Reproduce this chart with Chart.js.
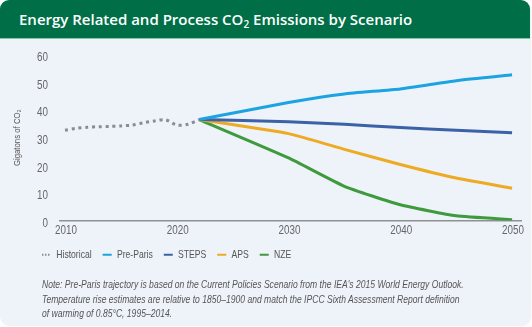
<!DOCTYPE html>
<html>
<head>
<meta charset="utf-8">
<script src="https://cdn.jsdelivr.net/npm/chart.js@4.4.0/dist/chart.umd.min.js"></script>
<style>
  html, body { margin: 0; padding: 0; width: 532px; height: 327px; background: #fff; overflow: hidden; }
  .card { position: absolute; left: 0; top: 0; width: 530px; height: 325px; background: #eef2f9; border-radius: 9px; overflow: hidden; box-shadow: 1px 1px 2px rgba(0,0,0,0.07); }
  .head { height: 38px; background: #006f47; border-bottom: 1.5px solid #86c4ad; color: #fff; font-family: 'Open Sans', sans-serif; font-weight: 600; font-size: 15px; line-height: 38px; padding-left: 19px; white-space: nowrap; }
  .head sub { font-size: 10px; vertical-align: -3px; line-height: 0; }
  .plot { position: absolute; left: 0; top: 40px; }
  .note { position: absolute; left: 42px; top: 277px; white-space: nowrap; transform: scaleX(0.745); transform-origin: 0 0; font-family: 'Liberation Sans', Arial, sans-serif; font-style: italic; font-size: 11.5px; line-height: 14.5px; color: #555; }
</style>
</head>
<body>
<div class="card">
  <div class="head">Energy Related and Process CO<sub>2</sub> Emissions by Scenario</div>
  <canvas id="emissionsChart" class="plot" width="530" height="240"></canvas>
  <div class="note">Note: Pre-Paris trajectory is based on the Current Policies Scenario from the IEA's 2015 World Energy Outlook.<br>Temperature rise estimates are relative to 1850–1900 and match the IPCC Sixth Assessment Report definition<br>of warming of 0.85°C, 1995–2014.</div>
</div>
<script>
// historical emissions, Gt CO2
const histYears = [2010, 2011, 2012, 2013, 2014, 2015, 2016, 2017, 2018, 2019, 2020, 2021, 2022];
const histValues = [32.7, 33.4, 33.8, 34.0, 34.1, 34.3, 34.6, 35.4, 36.1, 36.5, 34.6, 34.9, 36.6];

// scenario trajectories
const scenarioYears = [2022, 2030, 2035, 2040, 2045, 2050];
const preParis = [36.6, 42.8, 45.9, 47.7, 50.7, 52.8];
const steps = [36.6, 35.8, 34.9, 33.7, 32.7, 31.8];
const aps = [36.6, 31.5, 25.8, 20.3, 15.4, 11.7];
const nze = [36.6, 22.7, 12.4, 5.7, 1.7, 0.3];

const xTicks = [2010, 2020, 2030, 2040, 2050];
const yTicks = [0, 10, 20, 30, 40, 50, 60];

const sans = "'Liberation Sans', Arial, sans-serif";
const NARROW = 0.82;

// no narrow face installed, so squeeze canvas text horizontally
function narrowText(ctx) {
    const fill = ctx.fillText.bind(ctx);
    const measure = ctx.measureText.bind(ctx);
    ctx.fillText = function(text, x, y) {
        ctx.save();
        ctx.translate(x, y);
        ctx.scale(NARROW, 1);
        fill(text, 0, 0);
        ctx.restore();
    };
    ctx.measureText = function(text) {
        const m = measure(text);
        return {
            width: m.width * NARROW,
            actualBoundingBoxAscent: m.actualBoundingBoxAscent,
            actualBoundingBoxDescent: m.actualBoundingBoxDescent
        };
    };
}

function points(xs, ys) {
    return xs.map((x, i) => ({ x: x, y: ys[i] }));
}

function scenario(label, values, color) {
    return {
        label: label,
        data: points(scenarioYears, values),
        borderColor: color,
        backgroundColor: color,
        borderWidth: 3,
        pointRadius: 0,
        tension: 0.15
    };
}

// legend sits further left than the chart area
const legendShift = {
    id: 'legendShift',
    beforeDraw(chart) {
        chart.legend.left = 31;
    }
};

const ctx = document.getElementById('emissionsChart').getContext('2d');
narrowText(ctx);

new Chart(ctx, {
    type: 'line',
    data: {
        datasets: [
            {
                label: 'Historical',
                data: points(histYears, histValues),
                borderColor: '#8a8d90',
                backgroundColor: '#8a8d90',
                borderWidth: 3,
                borderDash: [3, 3.8],
                pointRadius: 0,
                tension: 0.3
            },
            scenario('Pre-Paris', preParis, '#1ca3e2'),
            scenario('STEPS', steps, '#3b62a6'),
            scenario('APS', aps, '#eeaa22'),
            scenario('NZE', nze, '#3e9a3c')
        ]
    },
    options: {
        responsive: false,
        animation: false,
        devicePixelRatio: 1,
        layout: { padding: { top: 15, right: 9, bottom: 10, left: 0 } },
        scales: {
            x: {
                type: 'linear',
                min: 2009.55,
                max: 2050.8,
                afterBuildTicks: s => { s.ticks = xTicks.map(v => ({ value: v })); },
                afterFit: s => { s.height = 18; },
                grid: { display: false, drawTicks: false },
                border: { display: true, color: '#8e9092', width: 1.5 },
                ticks: {
                    color: '#666',
                    padding: 3,
                    labelOffset: 1,
                    maxRotation: 0,
                    font: { family: sans, size: 12 },
                    callback: v => String(v)
                }
            },
            y: {
                min: 0,
                max: 60,
                afterBuildTicks: s => { s.ticks = yTicks.map(v => ({ value: v })); },
                afterFit: s => {
                    s.width = 60;
                    s.paddingTop = 0;
                    s.paddingBottom = 0;
                },
                grid: { display: false, drawTicks: false },
                border: { display: false },
                ticks: {
                    color: '#666',
                    padding: 12,
                    labelOffset: 3,
                    font: { family: sans, size: 12 }
                },
                title: {
                    display: true,
                    text: 'Gigatons of CO₂',
                    color: '#555',
                    padding: { top: 12, bottom: 0 },
                    font: { family: sans, size: 9.5 }
                }
            }
        },
        plugins: {
            legend: {
                position: 'bottom',
                align: 'start',
                labels: {
                    usePointStyle: true,
                    pointStyle: 'line',
                    pointStyleWidth: 9,
                    padding: 11,
                    color: '#555',
                    font: { family: sans, size: 10.5 },
                    generateLabels: chart => {
                        const items = Chart.defaults.plugins.legend.labels.generateLabels(chart);
                        items.forEach(item => {
                            item.lineWidth = 2;
                            item.pointStyle = 'line';
                            item.lineDash = item.text === 'Historical' ? [1.5, 1.5] : [];
                        });
                        return items;
                    }
                }
            },
            tooltip: { enabled: false }
        }
    },
    plugins: [legendShift]
});
</script>
</body>
</html>
